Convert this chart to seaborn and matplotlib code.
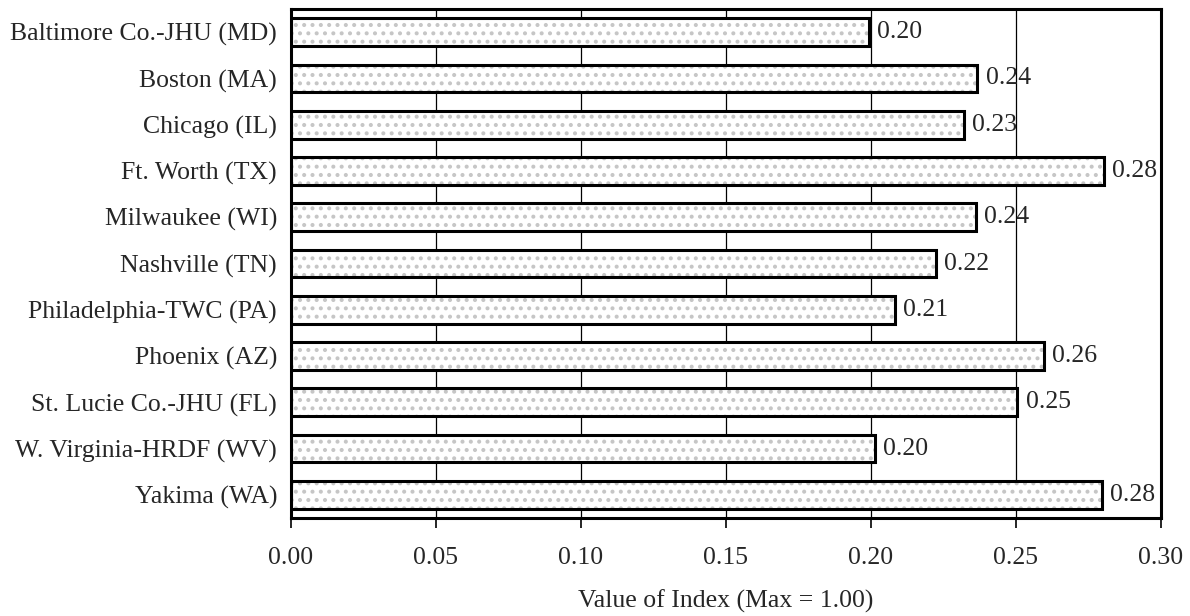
import numpy as np
import pandas as pd
import matplotlib
matplotlib.use("Agg")
import matplotlib.pyplot as plt
import seaborn as sns


SITES = [
    "Baltimore Co.-JHU (MD)",
    "Boston (MA)",
    "Chicago (IL)",
    "Ft. Worth (TX)",
    "Milwaukee (WI)",
    "Nashville (TN)",
    "Philadelphia-TWC (PA)",
    "Phoenix (AZ)",
    "St. Lucie Co.-JHU (FL)",
    "W. Virginia-HRDF (WV)",
    "Yakima (WA)",
]
INDEX_VALUES = [0.1992, 0.2367, 0.2320, 0.2804, 0.2363, 0.2224,
                0.2082, 0.2596, 0.2505, 0.2015, 0.2797]
X_TICKS = [0.00, 0.05, 0.10, 0.15, 0.20, 0.25, 0.30]

FONT_SIZE = 18.5


def main() -> None:
    df = pd.DataFrame({"site": SITES, "value": INDEX_VALUES})

    sns.set_style("white")
    plt.rcParams["font.family"] = ["Liberation Serif", "DejaVu Serif"]
    plt.rcParams["hatch.linewidth"] = 1.7

    fig, ax = plt.subplots(figsize=(11.9, 6.16), dpi=100)
    fig.subplots_adjust(left=291 / 1190, right=1161 / 1190,
                        top=1 - 9 / 616, bottom=1 - 518 / 616)

    # dotted fill first, then the black outline on top
    sns.barplot(data=df, x="value", y="site", orient="h", color="white",
                width=0.6, ax=ax, zorder=2)
    for p in ax.patches:
        p.set_hatch("..")
        p.set_edgecolor("#c6c6c6")
        p.set_linewidth(0)

    sns.barplot(data=df, x="value", y="site", orient="h", fill=False,
                width=0.6, ax=ax, zorder=3, edgecolor="black", linewidth=2.2)

    ax.set_xlim(0, 0.30)
    ax.set_ylim(len(SITES) - 0.5, -0.5)
    ax.set_xticks(X_TICKS)
    ax.set_xticklabels([f"{t:.2f}" for t in X_TICKS])
    ax.xaxis.grid(True, color="black", linewidth=0.9, zorder=0)
    ax.set_axisbelow(True)

    ax.set_yticks(np.arange(len(SITES)))
    ax.set_yticklabels(SITES)
    ax.set_yticks(np.arange(len(SITES) + 1) - 0.5, minor=True)
    ax.tick_params(axis="y", which="major", length=0, labelsize=FONT_SIZE, pad=10)
    ax.tick_params(axis="y", which="minor", length=7, width=1.2,
                   direction="out", color="black")
    ax.tick_params(axis="x", which="major", length=7, width=1.2,
                   direction="out", color="black", labelsize=FONT_SIZE, pad=14)
    ax.tick_params(left=True, bottom=True)

    for side in ["top", "bottom", "left", "right"]:
        ax.spines[side].set_visible(True)
        ax.spines[side].set_color("black")
        ax.spines[side].set_linewidth(2.2)

    for i, v in enumerate(INDEX_VALUES):
        ax.text(v + 0.0028, i, f"{v:.2f}", va="center", ha="left",
                fontsize=FONT_SIZE, zorder=4)

    ax.set_xlabel("Value of Index (Max = 1.00)", fontsize=FONT_SIZE, labelpad=15)
    ax.set_ylabel("")

    plt.savefig("out.png", dpi=100)
    plt.close()


if __name__ == "__main__":
    main()
